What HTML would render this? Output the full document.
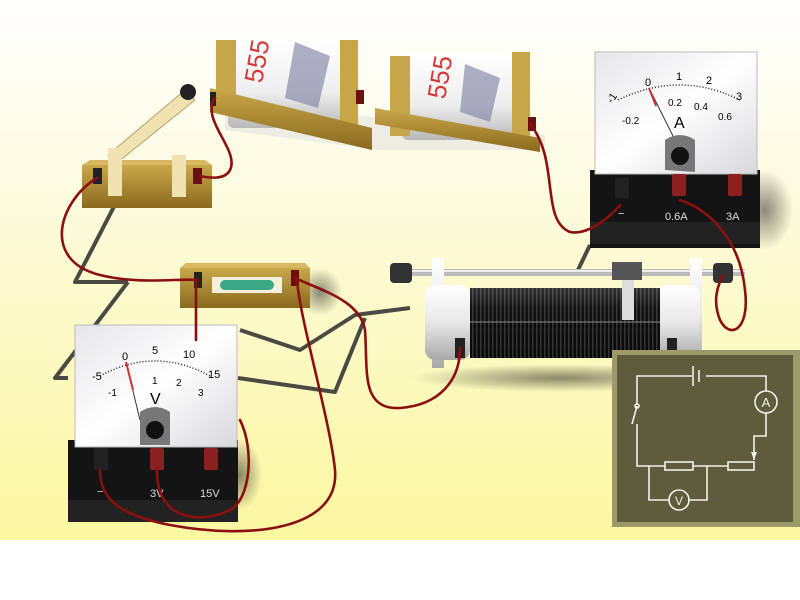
<!DOCTYPE html>
<html><head><meta charset="utf-8"><style>
html,body{margin:0;padding:0;background:#fff}
svg{display:block}
text{font-family:"Liberation Sans",sans-serif}
</style></head><body>
<svg width="800" height="600" viewBox="0 0 800 600" xmlns="http://www.w3.org/2000/svg">
<defs>
<linearGradient id="bg" x1="0" y1="0" x2="0" y2="1">
<stop offset="0" stop-color="#ffffff"/><stop offset="0.35" stop-color="#fdfbe0"/><stop offset="1" stop-color="#fcf7a0"/></linearGradient>
<linearGradient id="dial" x1="0" y1="0" x2="1" y2="1">
<stop offset="0" stop-color="#e6e6ea"/><stop offset="0.5" stop-color="#ffffff"/><stop offset="1" stop-color="#d8d8dc"/></linearGradient>
<linearGradient id="wood" x1="0" y1="0" x2="0" y2="1">
<stop offset="0" stop-color="#c9a84a"/><stop offset="1" stop-color="#8a6a1e"/></linearGradient>
<linearGradient id="cell" x1="0" y1="0" x2="0" y2="1">
<stop offset="0" stop-color="#ffffff"/><stop offset="0.6" stop-color="#eeeeee"/><stop offset="1" stop-color="#b8b8b8"/></linearGradient>
<linearGradient id="coil" x1="0" y1="0" x2="0" y2="1">
<stop offset="0" stop-color="#555"/><stop offset="0.3" stop-color="#111"/><stop offset="1" stop-color="#000"/></linearGradient>
<linearGradient id="white3" x1="0" y1="0" x2="0" y2="1">
<stop offset="0" stop-color="#ffffff"/><stop offset="0.5" stop-color="#e8e8e8"/><stop offset="1" stop-color="#a8a8a8"/></linearGradient>
<radialGradient id="sh"><stop offset="0" stop-color="#000" stop-opacity="0.45"/><stop offset="1" stop-color="#000" stop-opacity="0"/></radialGradient>
<pattern id="turns" width="4" height="10" patternUnits="userSpaceOnUse"><rect width="4" height="10" fill="#111"/><rect width="1.5" height="10" fill="#5a5a5a"/></pattern>
</defs>
<rect width="800" height="540" fill="url(#bg)"/>
<rect y="540" width="800" height="60" fill="#fff"/>

<!-- table shadow frame -->
<g fill="none" stroke="#4a4a42" stroke-width="4" stroke-linejoin="round">
<polyline points="120,195 75,282 128,282"/>
<polyline points="128,282 55,378 68,378"/>
<polyline points="240,330 300,350 355,315 410,308"/>
<polyline points="365,318 335,392 238,378"/>
<polyline points="578,270 590,245"/>
</g>

<!-- batteries -->
<g>
<polygon points="225,130 380,150 545,150 545,135 380,118 225,100" fill="#ddd" opacity="0.5"/>
<rect x="228" y="40" width="125" height="88" rx="6" fill="url(#cell)"/>
<rect x="216" y="40" width="20" height="72" fill="#c6a648"/>
<rect x="340" y="40" width="18" height="90" fill="#c6a648"/>
<polygon points="210,88 372,128 372,150 210,112" fill="url(#wood)"/>
<text x="262" y="84" font-size="26" fill="#d23a3a" transform="rotate(-80 262 84)">555</text>
<polygon points="295,42 330,56 318,108 285,98" fill="#7a7aa0" opacity="0.6"/>
<rect x="402" y="52" width="120" height="88" rx="6" fill="url(#cell)"/>
<rect x="390" y="56" width="20" height="80" fill="#c6a648"/>
<rect x="512" y="52" width="18" height="92" fill="#c6a648"/>
<polygon points="375,108 540,138 540,152 375,124" fill="url(#wood)"/>
<text x="445" y="100" font-size="26" fill="#d23a3a" transform="rotate(-80 445 100)">555</text>
<polygon points="465,64 500,78 490,122 460,112" fill="#7a7aa0" opacity="0.6"/>
<rect x="356" y="90" width="8" height="14" fill="#6a1010"/>
<rect x="528" y="117" width="8" height="14" fill="#6a1010"/>
<rect x="210" y="92" width="6" height="14" fill="#222"/>
</g>

<!-- switch -->
<g>
<rect x="82" y="165" width="130" height="43" fill="url(#wood)"/>
<polygon points="82,165 212,165 205,160 90,160" fill="#d8b860"/>
<polygon points="108,155 185,90 195,100 118,162" fill="#efe2b0" stroke="#b8a070"/>
<circle cx="188" cy="92" r="8" fill="#222"/>
<rect x="108" y="148" width="14" height="48" fill="#efe2b0"/>
<rect x="172" y="155" width="14" height="42" fill="#efe2b0"/>
<rect x="93" y="168" width="9" height="16" fill="#222"/>
<rect x="193" y="168" width="9" height="16" fill="#6a1010"/>
</g>

<!-- ammeter -->
<g>
<ellipse cx="765" cy="210" rx="28" ry="40" fill="url(#sh)"/>
<rect x="590" y="170" width="170" height="78" fill="#141414"/>
<rect x="590" y="222" width="170" height="22" fill="#222"/>
<rect x="595" y="52" width="162" height="122" fill="url(#dial)" stroke="#bbb"/>
<path d="M618,100 Q680,70 740,100" fill="none" stroke="#222" stroke-width="1.5" stroke-dasharray="1 2"/>
<text x="612" y="104" font-size="11" transform="rotate(-55 612 104)">-1</text>
<text x="645" y="86" font-size="11">0</text>
<text x="676" y="80" font-size="11">1</text>
<text x="706" y="84" font-size="11">2</text>
<text x="736" y="100" font-size="11">3</text>
<text x="622" y="124" font-size="10">-0.2</text>
<text x="668" y="106" font-size="10">0.2</text>
<text x="694" y="110" font-size="10">0.4</text>
<text x="718" y="120" font-size="10">0.6</text>
<text x="674" y="128" font-size="16">A</text>
<line x1="649" y1="88" x2="680" y2="150" stroke="#333"/>
<line x1="649" y1="88" x2="656" y2="106" stroke="#c33" stroke-width="2"/>
<path d="M665,170 L665,140 Q680,130 695,140 L695,172 Z" fill="#777"/>
<circle cx="680" cy="156" r="9" fill="#111"/>
<rect x="615" y="178" width="14" height="20" fill="#222" rx="2"/>
<rect x="672" y="174" width="14" height="22" fill="#8a2020" rx="2"/>
<rect x="728" y="174" width="14" height="22" fill="#8a2020" rx="2"/>
<text x="618" y="217" font-size="11" fill="#ddd">−</text>
<text x="665" y="220" font-size="11" fill="#ddd">0.6A</text>
<text x="726" y="220" font-size="11" fill="#ddd">3A</text>
</g>

<!-- resistor -->
<g>
<ellipse cx="320" cy="292" rx="22" ry="24" fill="url(#sh)"/>
<rect x="180" y="268" width="130" height="40" fill="url(#wood)"/>
<polygon points="180,268 310,268 305,263 186,263" fill="#d8b860"/>
<rect x="212" y="277" width="70" height="16" fill="#f5f0dc"/>
<rect x="220" y="280" width="54" height="10" rx="5" fill="#3aa884"/>
<rect x="194" y="272" width="8" height="16" fill="#222"/>
<rect x="291" y="270" width="8" height="16" fill="#6a1010"/>
</g>

<!-- rheostat -->
<g>
<ellipse cx="560" cy="378" rx="150" ry="14" fill="url(#sh)"/>
<rect x="400" y="269" width="345" height="7" fill="#bbb"/>
<rect x="400" y="270" width="345" height="2" fill="#eee"/>
<rect x="390" y="263" width="22" height="20" rx="4" fill="#333"/>
<rect x="713" y="263" width="20" height="20" rx="4" fill="#333"/>
<rect x="432" y="258" width="12" height="110" fill="url(#white3)"/>
<rect x="690" y="258" width="12" height="110" fill="url(#white3)"/>
<rect x="425" y="285" width="45" height="75" rx="10" fill="url(#white3)"/>
<rect x="655" y="285" width="45" height="75" rx="10" fill="url(#white3)"/>
<rect x="470" y="288" width="190" height="70" fill="url(#turns)"/>
<rect x="470" y="288" width="190" height="70" fill="url(#coil)" opacity="0.45"/>
<line x1="470" y1="322" x2="660" y2="322" stroke="#888" stroke-width="1"/>
<rect x="612" y="262" width="30" height="18" fill="#555"/>
<rect x="622" y="280" width="12" height="40" fill="#ddd"/>
<rect x="455" y="338" width="10" height="20" fill="#222"/>
<rect x="667" y="338" width="10" height="20" fill="#222"/>
</g>

<!-- voltmeter -->
<g>
<ellipse cx="240" cy="475" rx="22" ry="36" fill="url(#sh)"/>
<rect x="68" y="440" width="170" height="82" fill="#141414"/>
<rect x="68" y="500" width="170" height="22" fill="#222"/>
<rect x="75" y="325" width="162" height="122" fill="url(#dial)" stroke="#bbb"/>
<path d="M100,376 Q155,346 210,376" fill="none" stroke="#222" stroke-width="1.5" stroke-dasharray="1 2"/>
<text x="92" y="380" font-size="11">-5</text>
<text x="122" y="360" font-size="11">0</text>
<text x="152" y="354" font-size="11">5</text>
<text x="183" y="358" font-size="11">10</text>
<text x="208" y="378" font-size="11">15</text>
<text x="108" y="396" font-size="10">-1</text>
<text x="152" y="384" font-size="10">1</text>
<text x="176" y="386" font-size="10">2</text>
<text x="198" y="396" font-size="10">3</text>
<text x="150" y="404" font-size="16">V</text>
<line x1="126" y1="362" x2="140" y2="420" stroke="#333"/>
<line x1="126" y1="362" x2="133" y2="390" stroke="#c33" stroke-width="2"/>
<path d="M140,445 L140,412 Q155,402 170,412 L170,445 Z" fill="#777"/>
<circle cx="155" cy="430" r="9" fill="#111"/>
<rect x="94" y="448" width="14" height="22" fill="#222" rx="2"/>
<rect x="150" y="448" width="14" height="22" fill="#8a2020" rx="2"/>
<rect x="204" y="448" width="14" height="22" fill="#8a2020" rx="2"/>
<text x="97" y="495" font-size="11" fill="#ddd">−</text>
<text x="150" y="497" font-size="11" fill="#ddd">3V</text>
<text x="200" y="497" font-size="11" fill="#ddd">15V</text>
</g>

<!-- red wires -->
<g fill="none" stroke="#8a1010" stroke-width="2.6" stroke-linecap="round">
<path d="M215,98 C200,120 240,150 230,170 C225,180 210,178 200,176"/>
<path d="M97,178 C60,200 40,260 100,275 C140,285 180,278 198,280"/>
<path d="M530,124 C560,160 540,220 570,232 C590,236 615,212 620,205"/>
<path d="M680,200 C710,210 740,240 745,290 C750,330 730,340 720,320 C712,300 718,285 723,275"/>
<path d="M295,278 C320,290 360,300 365,330 C368,370 360,410 400,408 C440,405 460,380 460,348"/>
<path d="M196,280 L196,340"/>
<path d="M297,280 C300,320 330,420 335,470 C340,530 250,540 170,525 C120,515 100,500 100,470"/>
<path d="M157,468 C155,520 200,525 230,510 C250,500 255,450 240,420"/>
</g>

<!-- schematic -->
<g>
<rect x="612" y="350" width="188" height="177" fill="#9a9a6a"/>
<rect x="617" y="355" width="176" height="167" fill="#5e5c3c"/>
<g fill="none" stroke="#f2f2e6" stroke-width="1.6">
<polyline points="692,376 637,376 637,404"/>
<line x1="637" y1="406" x2="632" y2="424"/>
<polyline points="637,424 637,466 747,466"/>
<polyline points="706,376 766,376 766,391"/>
<polyline points="766,413 766,436 754,436 754,460"/>
<line x1="693" y1="366" x2="693" y2="386"/>
<line x1="699" y1="370" x2="699" y2="382"/>
<rect x="665" y="462" width="28" height="8" fill="#5e5c3c"/>
<rect x="728" y="462" width="26" height="8" fill="#5e5c3c"/>
<polyline points="649,466 649,500 670,500"/>
<polyline points="688,500 707,500 707,466"/>
<circle cx="766" cy="402" r="11"/>
<circle cx="679" cy="500" r="10"/>
<circle cx="637" cy="406" r="2"/>
</g>
<polygon points="751,452 757,452 754,460" fill="#f2f2e6"/>
<text x="766" y="407" font-size="13" fill="#f2f2e6" text-anchor="middle" font-family="Liberation Serif,serif">A</text>
<text x="679" y="505" font-size="12" fill="#f2f2e6" text-anchor="middle" font-family="Liberation Serif,serif">V</text>
</g>
</svg>
</body></html>
